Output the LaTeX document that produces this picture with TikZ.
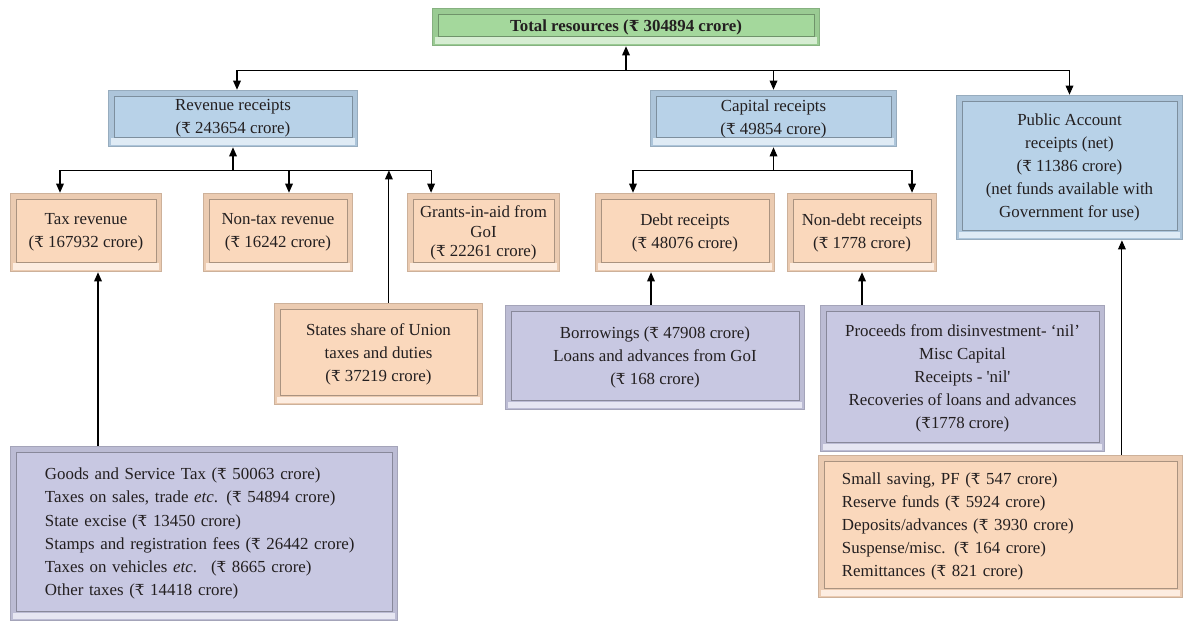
\documentclass[tikz,border=0pt]{standalone}
\usepackage{fontspec}
\setmainfont{Liberation Serif}
\newfontfamily\rupeefont[Scale=0.9]{DejaVu Serif}
\usetikzlibrary{arrows.meta,backgrounds,positioning}

\definecolor{greenfill}{RGB}{164,216,156}
\definecolor{bluefill}{RGB}{184,210,232}
\definecolor{peachfill}{RGB}{250,216,188}
\definecolor{lilacfill}{RGB}{200,200,226}
\definecolor{inkgray}{RGB}{35,31,32}

\newcommand{\rs}{{\rupeefont ₹}}

\tikzset{
  box/.style={inner sep=0pt, align=center, text=inkgray,
    font=\fontsize{12pt}{16.4pt}\selectfont},
  listbox/.style={box, align=left},
  arr/.style={-{Triangle[length=6.5pt,width=5.5pt]}, line width=0.8pt},
  bus/.style={line width=0.8pt},
}

\begin{document}
\begin{tikzpicture}[x=0.025cm,y=-0.025cm]
\useasboundingbox (0,0) rectangle (1183,621);

% top level
\node[box, font=\fontsize{12pt}{16.4pt}\selectfont\bfseries,
  minimum width=9.7cm, minimum height=0.95cm] (tot) at (626,27)
  {Total resources (\rs{} 304894 crore)};

% second level
\node[box, minimum width=6.25cm, minimum height=1.425cm] (rev) at (233,118.5)
  {Revenue receipts\\(\rs{} 243654 crore)};
\node[box, minimum width=6.175cm, minimum height=1.425cm] (cap) at (773.5,118.5)
  {Capital receipts\\(\rs{} 49854 crore)};
\node[box, minimum width=5.675cm, minimum height=3.625cm] (pub) at (1069.5,167.5)
  {Public Account\\receipts (net)\\(\rs{} 11386 crore)\\(net funds available with\\Government for use)};

% third level
\node[box, minimum width=3.8cm, minimum height=1.975cm] (tax) at (86,232.5)
  {Tax revenue\\(\rs{} 167932 crore)};
\node[box, minimum width=3.75cm, minimum height=1.975cm] (nontax) at (278,232.5)
  {Non-tax revenue\\(\rs{} 16242 crore)};
\node[box, minimum width=3.825cm, minimum height=1.975cm] (grants) at (483.5,232.5)
  {Grants-in-aid from\\[-2pt]GoI\\[-3pt](\rs{} 22261 crore)};
\node[box, minimum width=4.5cm, minimum height=1.975cm] (debt) at (685,232.5)
  {Debt receipts\\(\rs{} 48076 crore)};
\node[box, minimum width=3.75cm, minimum height=1.975cm] (nondebt) at (862,232.5)
  {Non-debt receipts\\(\rs{} 1778 crore)};

% details
\node[box, minimum width=5.225cm, minimum height=2.55cm] (share) at (378.5,354)
  {States share of Union\\taxes and duties\\(\rs{} 37219 crore)};
\node[box, minimum width=7.5cm, minimum height=2.625cm] (borrow) at (655,357.5)
  {Borrowings (\rs{} 47908 crore)\\Loans and advances from GoI\\(\rs{} 168 crore)};
\node[box, minimum width=7.125cm, minimum height=3.675cm] (nddet) at (962.5,378.5)
  {Proceeds from disinvestment- ‘nil’\\Misc Capital\\Receipts - \textquotesingle nil\textquotesingle\\Recoveries of loans and advances\\(\rs1778 crore)};
\node[listbox, inner xsep=0.875cm, text width=7.95cm, minimum height=4.375cm] (taxdet) at (204,533.5)
  {Goods and Service Tax (\rs{} 50063 crore)\\
   Taxes on sales, trade \textit{etc}. (\rs{} 54894 crore)\\
   State excise (\rs{} 13450 crore)\\
   Stamps and registration fees (\rs{} 26442 crore)\\
   Taxes on vehicles \textit{etc}.~ (\rs{} 8665 crore)\\
   Other taxes (\rs{} 14418 crore)};
\node[listbox, inner xsep=0.6cm, text width=7.925cm, minimum height=3.575cm] (pubdet) at (1000.5,526.5)
  {Small saving, PF (\rs{} 547 crore)\\
   Reserve funds (\rs{} 5924 crore)\\
   Deposits/advances (\rs{} 3930 crore)\\
   Suspense/misc. (\rs{} 164 crore)\\
   Remittances (\rs{} 821 crore)};

% bevelled panels
\begin{scope}[on background layer]
\foreach \n/\c in {tot/greenfill, rev/bluefill, cap/bluefill, pub/bluefill,
    tax/peachfill, nontax/peachfill, grants/peachfill, debt/peachfill,
    nondebt/peachfill, share/peachfill, borrow/lilacfill, nddet/lilacfill,
    taxdet/lilacfill, pubdet/peachfill} {
  \fill[\c!82!black] (\n.north west) rectangle (\n.south east);
  \fill[\c!94!black] ([shift={(0.04cm,-0.04cm)}]\n.north west) rectangle ([shift={(-0.04cm,0.04cm)}]\n.south east);
  \fill[white!55!\c] ([shift={(0.08cm,0.06cm)}]\n.south west) rectangle ([shift={(-0.08cm,0.22cm)}]\n.south east);
  \fill[\c] ([shift={(0.16cm,-0.16cm)}]\n.north west) rectangle ([shift={(-0.16cm,0.26cm)}]\n.south east);
  \draw[\c!68!black, line width=0.4pt] ([shift={(0.16cm,-0.16cm)}]\n.north west) rectangle ([shift={(-0.16cm,0.26cm)}]\n.south east);
}
\end{scope}

% connectors to the total
\coordinate[below=0.6cm of tot.south] (jtop);
\draw[bus] ([xshift=0.1cm]rev.north |- jtop) -- (pub.north |- jtop);
\draw[arr] (jtop) -- (tot.south);
\draw[arr] ([xshift=0.1cm]rev.north |- jtop) -- ([xshift=0.1cm]rev.north);
\foreach \n in {cap,pub}
  \draw[arr] (\n.north |- jtop) -- (\n.north);

% revenue branch
\coordinate[below=0.575cm of rev.south] (jrev);
\draw[bus] ([xshift=-0.65cm]tax.north |- jrev) -- ([xshift=-1.31cm]grants.north |- jrev);
\draw[arr] (jrev) -- (rev.south);
\draw[arr] ([xshift=-0.65cm]tax.north |- jrev) -- ([xshift=-0.65cm]tax.north);
\draw[arr] ([xshift=0.275cm]nontax.north |- jrev) -- ([xshift=0.275cm]nontax.north);
\draw[arr] ([xshift=-1.31cm]grants.north |- jrev) -- ([xshift=-1.31cm]grants.north);
\draw[arr] ([xshift=0.26cm]share.north) -- ([xshift=0.26cm]share.north |- jrev);

% capital branch
\coordinate[below=0.575cm of cap.south] (jcap);
\draw[bus] ([xshift=-1.3cm]debt.north |- jcap) -- ([xshift=1.25cm]nondebt.north |- jcap);
\draw[arr] (jcap) -- (cap.south);
\draw[arr] ([xshift=-1.3cm]debt.north |- jcap) -- ([xshift=-1.3cm]debt.north);
\draw[arr] ([xshift=1.25cm]nondebt.north |- jcap) -- ([xshift=1.25cm]nondebt.north);

% details up to their heads
\draw[arr] ([xshift=-0.1cm]borrow.north) -- ([xshift=-0.1cm]borrow.north |- debt.south);
\draw[arr] (nondebt.south |- nddet.north) -- (nondebt.south);
\draw[arr] ([xshift=0.3cm]tax.south |- taxdet.north) -- ([xshift=0.3cm]tax.south);
\draw[arr] ([xshift=1.31cm]pub.south |- pubdet.north) -- ([xshift=1.31cm]pub.south);
\end{tikzpicture}
\end{document}
